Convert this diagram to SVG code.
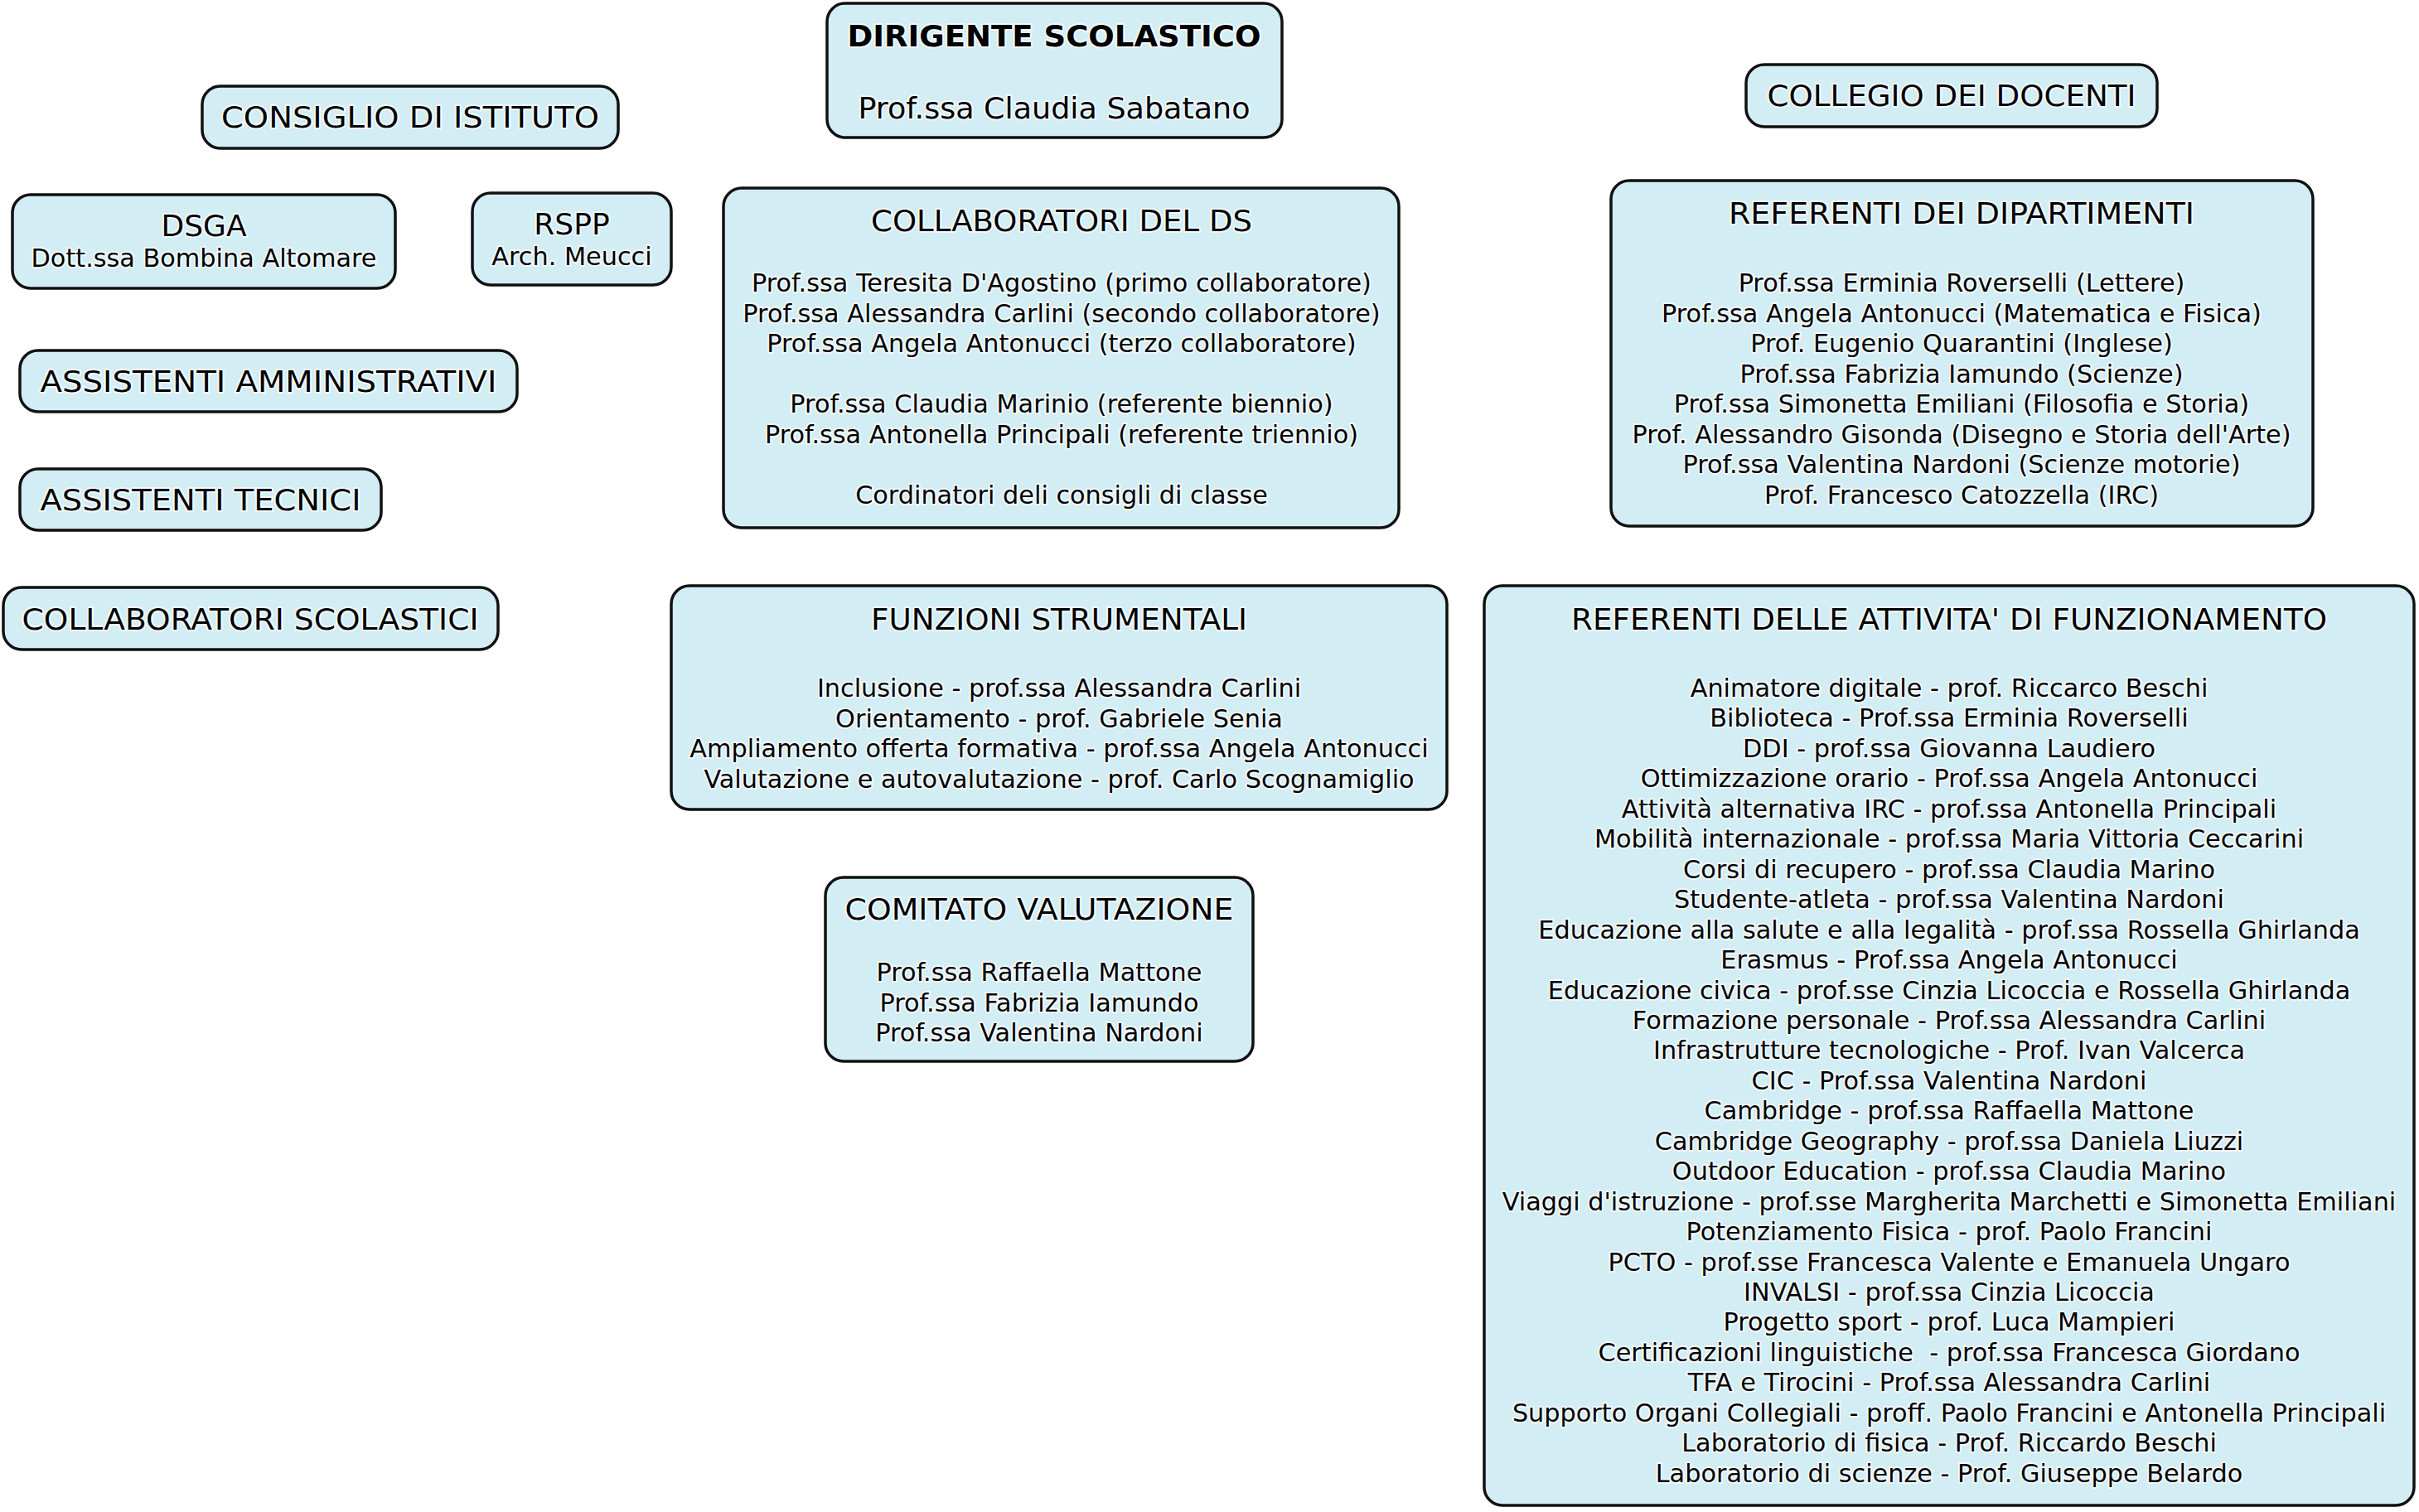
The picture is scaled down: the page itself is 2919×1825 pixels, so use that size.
<svg xmlns="http://www.w3.org/2000/svg" width="2919" height="1825" viewBox="0 0 2919 1825">
<style>
.box{fill:#d3edf4;stroke:#111;stroke-width:3.5}
text{font-family:"DejaVu Sans","Verdana",sans-serif;fill:#000;text-anchor:middle;stroke:#fff;stroke-width:4;stroke-opacity:0.7;paint-order:stroke;stroke-linejoin:round}
.h{font-size:36px}
.b{font-size:30.3px}
.bold{font-size:36px;font-weight:bold}
</style>
<rect width="2919" height="1825" fill="#fff"/>
<g id="connectors"></g>

<g id="dirigente">
<rect class="box" x="998" y="4" width="549" height="162" rx="22"/>
<text class="bold" x="1272" y="56" textLength="499" lengthAdjust="spacingAndGlyphs">DIRIGENTE SCOLASTICO</text>
<text class="h" x="1272" y="143" textLength="473" lengthAdjust="spacingAndGlyphs">Prof.ssa Claudia Sabatano</text>
</g>

<g id="consiglio">
<rect class="box" x="244" y="104" width="502" height="75" rx="22"/>
<text class="h" x="495" y="154" textLength="456" lengthAdjust="spacingAndGlyphs">CONSIGLIO DI ISTITUTO</text>
</g>

<g id="collegio">
<rect class="box" x="2107" y="78" width="496" height="75" rx="22"/>
<text class="h" x="2355" y="128" textLength="445" lengthAdjust="spacingAndGlyphs">COLLEGIO DEI DOCENTI</text>
</g>

<g id="dsga">
<rect class="box" x="15" y="235" width="462" height="113" rx="22"/>
<text class="h" x="246" y="285">DSGA</text>
<text class="b" x="246" y="322">Dott.ssa Bombina Altomare</text>
</g>

<g id="rspp">
<rect class="box" x="570" y="233" width="240" height="111" rx="22"/>
<text class="h" x="690" y="283">RSPP</text>
<text class="b" x="690" y="320">Arch. Meucci</text>
</g>

<g id="assistenti-amministrativi">
<rect class="box" x="24" y="423" width="600" height="74" rx="22"/>
<text class="h" x="324" y="473" textLength="551" lengthAdjust="spacingAndGlyphs">ASSISTENTI AMMINISTRATIVI</text>
</g>

<g id="assistenti-tecnici">
<rect class="box" x="24" y="566" width="436" height="74" rx="22"/>
<text class="h" x="242" y="616" textLength="387" lengthAdjust="spacingAndGlyphs">ASSISTENTI TECNICI</text>
</g>

<g id="collaboratori-scolastici">
<rect class="box" x="4" y="709" width="597" height="75" rx="22"/>
<text class="h" x="302" y="760" textLength="551" lengthAdjust="spacingAndGlyphs">COLLABORATORI SCOLASTICI</text>
</g>

<g id="collaboratori-ds">
<rect class="box" x="873" y="227" width="815" height="410" rx="22"/>
<text class="h" x="1281" y="279" textLength="460" lengthAdjust="spacingAndGlyphs">COLLABORATORI DEL DS</text>
<text class="b" x="1281" y="352">Prof.ssa Teresita D'Agostino (primo collaboratore)</text>
<text class="b" x="1281" y="388.5">Prof.ssa Alessandra Carlini (secondo collaboratore)</text>
<text class="b" x="1281" y="425">Prof.ssa Angela Antonucci (terzo collaboratore)</text>
<text class="b" x="1281" y="498">Prof.ssa Claudia Marinio (referente biennio)</text>
<text class="b" x="1281" y="534.5">Prof.ssa Antonella Principali (referente triennio)</text>
<text class="b" x="1281" y="607.5">Cordinatori deli consigli di classe</text>
</g>

<g id="referenti-dipartimenti">
<rect class="box" x="1944" y="218" width="847" height="417" rx="22"/>
<text class="h" x="2367" y="270" textLength="562" lengthAdjust="spacingAndGlyphs">REFERENTI DEI DIPARTIMENTI</text>
<text class="b" x="2367" y="352">Prof.ssa Erminia Roverselli (Lettere)</text>
<text class="b" x="2367" y="388.5">Prof.ssa Angela Antonucci (Matematica e Fisica)</text>
<text class="b" x="2367" y="425">Prof. Eugenio Quarantini (Inglese)</text>
<text class="b" x="2367" y="461.5">Prof.ssa Fabrizia Iamundo (Scienze)</text>
<text class="b" x="2367" y="498">Prof.ssa Simonetta Emiliani (Filosofia e Storia)</text>
<text class="b" x="2367" y="534.5">Prof. Alessandro Gisonda (Disegno e Storia dell'Arte)</text>
<text class="b" x="2367" y="571">Prof.ssa Valentina Nardoni (Scienze motorie)</text>
<text class="b" x="2367" y="607.5">Prof. Francesco Catozzella (IRC)</text>
</g>

<g id="funzioni-strumentali">
<rect class="box" x="810" y="707" width="936" height="270" rx="22"/>
<text class="h" x="1278" y="760" textLength="454" lengthAdjust="spacingAndGlyphs">FUNZIONI STRUMENTALI</text>
<text class="b" x="1278" y="841">Inclusione - prof.ssa Alessandra Carlini</text>
<text class="b" x="1278" y="877.5">Orientamento - prof. Gabriele Senia</text>
<text class="b" x="1278" y="914">Ampliamento offerta formativa - prof.ssa Angela Antonucci</text>
<text class="b" x="1278" y="950.5">Valutazione e autovalutazione - prof. Carlo Scognamiglio</text>
</g>

<g id="comitato-valutazione">
<rect class="box" x="996" y="1059" width="516" height="222" rx="22"/>
<text class="h" x="1254" y="1110" textLength="469" lengthAdjust="spacingAndGlyphs">COMITATO VALUTAZIONE</text>
<text class="b" x="1254" y="1184">Prof.ssa Raffaella Mattone</text>
<text class="b" x="1254" y="1220.5">Prof.ssa Fabrizia Iamundo</text>
<text class="b" x="1254" y="1257">Prof.ssa Valentina Nardoni</text>
</g>

<g id="referenti-attivita">
<rect class="box" x="1791" y="707" width="1122" height="1110" rx="22"/>
<text class="h" x="2352" y="760" textLength="912" lengthAdjust="spacingAndGlyphs">REFERENTI DELLE ATTIVITA' DI FUNZIONAMENTO</text>
<text class="b" x="2352" y="841">Animatore digitale - prof. Riccarco Beschi</text>
<text class="b" x="2352" y="877.45">Biblioteca - Prof.ssa Erminia Roverselli</text>
<text class="b" x="2352" y="913.9">DDI - prof.ssa Giovanna Laudiero</text>
<text class="b" x="2352" y="950.35">Ottimizzazione orario - Prof.ssa Angela Antonucci</text>
<text class="b" x="2352" y="986.8">Attività alternativa IRC - prof.ssa Antonella Principali</text>
<text class="b" x="2352" y="1023.25">Mobilità internazionale - prof.ssa Maria Vittoria Ceccarini</text>
<text class="b" x="2352" y="1059.7">Corsi di recupero - prof.ssa Claudia Marino</text>
<text class="b" x="2352" y="1096.15">Studente-atleta - prof.ssa Valentina Nardoni</text>
<text class="b" x="2352" y="1132.6">Educazione alla salute e alla legalità - prof.ssa Rossella Ghirlanda</text>
<text class="b" x="2352" y="1169.05">Erasmus - Prof.ssa Angela Antonucci</text>
<text class="b" x="2352" y="1205.5">Educazione civica - prof.sse Cinzia Licoccia e Rossella Ghirlanda</text>
<text class="b" x="2352" y="1241.95">Formazione personale - Prof.ssa Alessandra Carlini</text>
<text class="b" x="2352" y="1278.4">Infrastrutture tecnologiche - Prof. Ivan Valcerca</text>
<text class="b" x="2352" y="1314.85">CIC - Prof.ssa Valentina Nardoni</text>
<text class="b" x="2352" y="1351.3">Cambridge - prof.ssa Raffaella Mattone</text>
<text class="b" x="2352" y="1387.75">Cambridge Geography - prof.ssa Daniela Liuzzi</text>
<text class="b" x="2352" y="1424.2">Outdoor Education - prof.ssa Claudia Marino</text>
<text class="b" x="2352" y="1460.65">Viaggi d'istruzione - prof.sse Margherita Marchetti e Simonetta Emiliani</text>
<text class="b" x="2352" y="1497.1">Potenziamento Fisica - prof. Paolo Francini</text>
<text class="b" x="2352" y="1533.55">PCTO - prof.sse Francesca Valente e Emanuela Ungaro</text>
<text class="b" x="2352" y="1570">INVALSI - prof.ssa Cinzia Licoccia</text>
<text class="b" x="2352" y="1606.45">Progetto sport - prof. Luca Mampieri</text>
<text class="b" x="2352" y="1642.9" xml:space="preserve">Certificazioni linguistiche  - prof.ssa Francesca Giordano</text>
<text class="b" x="2352" y="1679.35">TFA e Tirocini - Prof.ssa Alessandra Carlini</text>
<text class="b" x="2352" y="1715.8">Supporto Organi Collegiali - proff. Paolo Francini e Antonella Principali</text>
<text class="b" x="2352" y="1752.25">Laboratorio di fisica - Prof. Riccardo Beschi</text>
<text class="b" x="2352" y="1788.7">Laboratorio di scienze - Prof. Giuseppe Belardo</text>
</g>
</svg>
